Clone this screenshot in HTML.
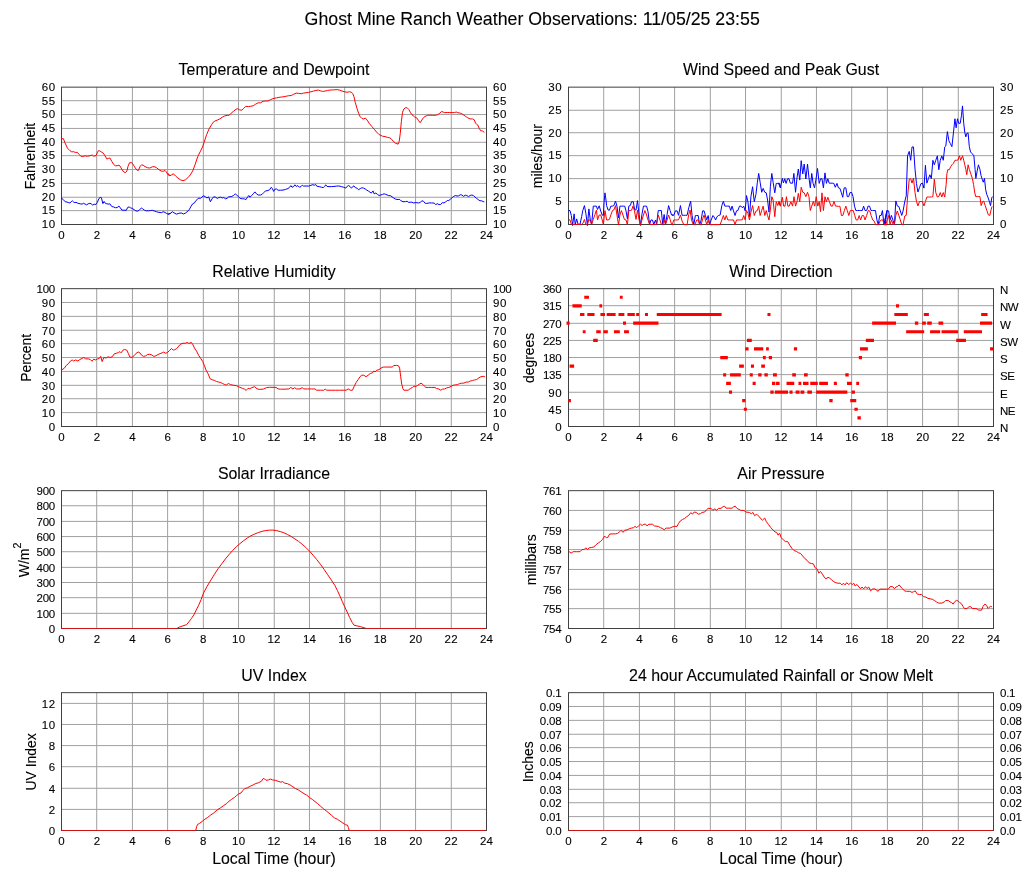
<!DOCTYPE html>
<html><head><meta charset="utf-8"><title>Ghost Mine Ranch Weather Observations</title>
<style>
html,body{margin:0;padding:0;background:#fff}
svg{display:block}
text{font-family:"Liberation Sans",Arial,Helvetica,sans-serif;fill:#000;stroke:#000;stroke-width:.1px}
.t{font-size:11.5px}
.h{font-size:15.9px}
.l{font-size:13.9px}
.g{stroke:#a0a0a0;stroke-width:1;fill:none}
.f{stroke:#404040;stroke-width:1;fill:none}
.r{stroke:#ff0000;stroke-width:1;fill:none;stroke-linejoin:miter}
.b{stroke:#0000ff;stroke-width:1;fill:none;stroke-linejoin:miter}
</style></head><body>
<svg width="1027" height="878" viewBox="0 0 1027 878">
<rect width="1027" height="878" fill="#fff"/>
<text x="532.2" y="24.8" text-anchor="middle" style="font-size:17.75px">Ghost Mine Ranch Weather Observations: 11/05/25 23:55</text>
<g>
<path class="g" d="M96.71 87.15V224.5M132.42 87.15V224.5M167.62 87.15V224.5M203.33 87.15V224.5M238.54 87.15V224.5M274.25 87.15V224.5M309.46 87.15V224.5M344.67 87.15V224.5M380.38 87.15V224.5M415.58 87.15V224.5M451.29 87.15V224.5M61.5 210.63H486.5M61.5 197.26H486.5M61.5 183.4H486.5M61.5 169.53H486.5M61.5 155.66H486.5M61.5 142.3H486.5M61.5 128.43H486.5M61.5 114.56H486.5M61.5 100.69H486.5"/>
<rect class="f" x="61.5" y="87.15" width="425" height="137.35"/>
<polyline class="r" points="61.5,138.92 63.32,138.55 65.13,143.17 67.55,148.26 69.97,150.69 71.79,151.91 73.6,151.66 75.42,152.51 77.23,152.27 79.05,154.33 80.86,156.28 82.68,156.52 85.1,155.79 87.52,156.28 89.94,155.67 92.36,155.06 93.57,156.15 95.99,155.67 97.2,152.88 98.41,150.69 99.62,150.81 101.43,152.03 103.25,153.12 105.06,155.91 106.88,158.95 108.7,158.34 109.91,157.98 111.72,161.37 113.54,164.05 115.35,165.99 117.17,165.62 118.98,165.26 120.19,166.23 122.01,169.63 123.82,172.06 125.64,172.54 126.85,171.09 128.06,166.23 129.51,162.83 131.69,162.59 133.5,165.02 135.32,168.05 137.13,170.24 138.34,170.48 140.16,166.23 141.61,164.77 143.18,165.26 145,166.59 147.42,167.69 149.84,168.05 152.26,166.84 154.08,166.59 156.5,167.69 158.92,169.63 161.34,171.09 163.15,171.33 164.97,170.48 166.18,171.69 167.99,174.73 169.81,175.7 167.75,173.28 169.88,175.75 171.51,174.93 173.47,173.78 175.6,176.08 178.05,178.22 180.5,179.87 182.95,180.69 185.4,179.87 187.86,177.73 190.31,174.93 192.76,170.81 195.21,164.22 197.66,156.81 200.12,151.87 202.57,146.93 204.2,141.99 206.65,134.58 209.11,128.82 211.56,124.7 213.19,122.23 214.83,121.08 217.28,120.09 219.73,118.93 222.18,117.29 224.63,115.97 227.09,115.31 229.21,115.31 231.17,113.17 233.62,111.19 236.08,109.22 237.71,108.72 239.67,109.88 241.8,110.21 243.92,108.23 245.88,106.25 248.34,106.58 250.79,106.25 253.24,105.76 255.69,104.11 258.14,102.8 260.6,102.8 263.05,101.31 265.5,100.98 267.95,100.98 270.4,99.67 272.86,98.68 276.46,97.85 278.93,97.36 281.39,97.03 283.85,96.7 286.32,96.21 288.78,95.71 291.24,95.55 293.71,94.23 296.17,93.08 298.63,93.41 301.1,93.74 303.56,93.08 306.02,92.75 308.49,92.42 310.95,91.76 313.41,91.1 315.88,90.44 318.34,90.11 320.8,90.94 322.44,91.43 324.91,91.1 327.37,90.44 329.83,90.11 332.3,89.95 334.76,89.79 337.22,89.62 339.69,90.11 342.15,91.1 344.61,91.76 347.08,92.26 349.54,91.76 351.18,92.09 352.83,93.74 353.97,96.7 355.29,102.47 356.93,108.23 358.57,113.17 360.22,116.79 361.86,118.44 363.5,118.93 365.47,118.11 367.11,120.09 369.25,123.38 371.71,126.35 374.17,129.15 376.64,132.11 379.1,134.58 382.54,136.23 385,136.56 387.45,137.38 389.91,137.87 391.55,139.19 393.18,141.17 395.64,143.31 398.09,144.13 399.24,141.17 400.22,133.76 401.37,121.41 402.52,112.35 403.82,109.05 405.46,107.74 407.1,107.74 408.74,109.38 410.37,112.35 412.01,114.82 414.47,116.79 416.92,118.11 418.56,120.58 420.2,122.72 421.83,120.09 423.47,117.62 425.11,116.46 427.56,115.31 430.02,115.15 432.47,115.31 434.93,115.31 437.39,114.82 439.84,113.17 441.48,111.52 443.12,112.02 444.75,112.68 447.21,112.51 449.66,112.51 452.12,112.68 454.58,112.51 456.21,112.02 457.85,112.68 460.31,113.17 462.76,114.32 465.22,116.14 467.67,117.78 470.13,118.93 472.58,118.93 474.22,119.76 475.53,123.05 476.68,124.37 477.82,125.03 479.13,128.32 480.77,130.79 482.41,130.96 484.37,132.44"/>
<polyline class="b" points="61.5,198.16 63.32,199.61 65.13,201.68 66.95,202.04 68.76,202.65 69.97,203.01 71.18,201.68 72.39,200.83 73.6,202.04 74.81,202.65 76.02,202.28 77.84,203.26 80.26,203.86 82.07,204.11 83.52,203.26 85.1,204.11 86.67,204.83 88.12,203.86 89.94,203.26 91.15,203.86 92.72,205.08 94.17,204.23 95.99,204.47 97.2,202.65 99.01,198.4 100.22,197.43 101.43,197.79 102.89,203.62 104.1,201.43 105.31,203.26 106.88,203.86 108.7,204.11 109.91,203.86 111.72,206.53 113.54,206.9 115.35,207.75 117.17,207.5 118.98,206.05 120.19,207.75 122.01,210.18 123.82,210.18 126.24,210.3 127.82,207.26 129.27,207.02 130.48,207.75 132.29,208.48 134.11,209.69 135.92,210.9 137.74,211.15 139.55,209.69 141.37,208.11 142.58,208.72 144.39,210.18 146.21,210.78 148.63,210.78 150.45,210.54 152.26,210.3 154.08,210.9 156.5,211.75 158.92,212.36 161.34,212.72 163.15,211.75 164.97,212.36 166.78,213.57 168.23,214.18 170.41,213.33 168.24,214.12 170.69,213.3 172.33,211.65 173.96,212.81 176.41,214.12 178.87,213.3 181.32,212.97 183.44,213.96 185.4,213.14 187.86,211.16 189.49,209.18 191.12,206.22 192.76,203.75 194.39,202.93 196.03,200.46 197.66,199.14 198.81,197.99 200.44,198.48 202.08,196.83 203.71,195.84 205.35,196.83 206.98,197.99 208.62,196.83 210.41,201.77 212.05,198.81 213.68,196.83 215.64,197.16 217.28,198.48 218.91,197.49 220.55,197.16 222.18,197.99 223.82,197.49 225.45,198.81 227.09,198.31 228.72,196.83 231.17,196.67 233.62,195.51 235.26,193.87 236.89,195.19 238.53,196.67 240.16,198.48 242.62,198.81 244.25,198.81 245.88,199.63 247.52,197.16 248.83,195.51 249.97,197.16 251.61,195.51 253.24,193.87 254.88,191.89 256.51,193.87 258.14,195.02 260.6,195.02 262.23,194.2 263.87,192.55 265.5,190.9 267.95,190.57 269.59,189.75 271.22,187.28 272.37,188.6 273.67,191.4 274.82,189.26 276.46,188.93 278.11,190.24 280.57,190.24 283.03,190.08 285.5,189.42 287.96,188.6 289.6,187.28 290.91,185.63 292.06,187.28 293.71,186.46 294.86,184.81 296.17,186.46 297.81,185.63 299.45,187.28 301.1,186.46 302.25,185.14 303.56,186.13 306.02,185.96 308.49,186.13 310.95,185.3 312.92,184.65 314.23,185.3 315.55,184.32 316.7,186.13 319.16,186.62 321.62,187.28 323.27,187.61 324.58,186.46 325.73,184.81 327.04,186.46 329.01,186.62 331.48,186.62 333.94,186.46 336.4,186.13 338.87,185.96 341.33,186.62 343.79,187.28 345.76,188.1 347.41,186.13 348.72,185.3 350.36,187.28 351.51,188.1 352.83,186.46 353.97,185.96 355.29,187.61 356.93,188.1 358.57,189.75 360.22,188.6 361.86,187.77 363.5,188.1 365.14,188.93 366.78,190.08 368.43,191.07 370.07,192.22 371.38,193.04 373.02,190.9 374.17,193.87 375.82,193.04 377.46,194.36 379.1,195.51 380.09,195.19 382.54,194.36 384.18,193.87 385.82,194.36 388.27,195.51 390.73,195.84 393.18,197.66 395.64,199.14 398.09,199.63 399.24,199.14 400.55,200.46 403.01,201.77 405.46,201.61 407.1,201.28 408.74,202.43 411.19,202.1 413.65,202.93 416.1,202.6 418.56,202.93 420.2,202.6 421.83,200.78 423.47,201.28 425.11,203.26 426.74,203.42 429.2,202.93 431.66,202.93 434.11,203.09 435.75,204.57 437.39,203.75 439.02,204.57 440.66,204.57 442.3,202.6 443.93,202.93 445.57,202.1 447.21,200.46 448.85,200.46 450.48,199.14 452.12,197.66 453.76,196.34 455.39,195.51 457.03,196.01 458.67,195.84 460.31,194.69 461.94,195.02 463.58,196.34 465.22,195.19 466.85,195.51 468.49,196.67 470.13,195.51 471.77,195.02 473.4,195.51 475.04,197.16 476.68,198.48 478.31,199.63 479.95,200.78 481.59,200.78 483.23,201.61 484.37,201.77"/>
<text class="h" x="274" y="75.45" text-anchor="middle">Temperature and Dewpoint</text>
<text class="t" x="61.5" y="239" text-anchor="middle">0</text>
<text class="t" x="96.92" y="239" text-anchor="middle">2</text>
<text class="t" x="132.33" y="239" text-anchor="middle">4</text>
<text class="t" x="167.75" y="239" text-anchor="middle">6</text>
<text class="t" x="203.17" y="239" text-anchor="middle">8</text>
<text class="t" x="238.68" y="239" text-anchor="middle" letter-spacing="0.2">10</text>
<text class="t" x="274.1" y="239" text-anchor="middle" letter-spacing="0.2">12</text>
<text class="t" x="309.52" y="239" text-anchor="middle" letter-spacing="0.2">14</text>
<text class="t" x="344.93" y="239" text-anchor="middle" letter-spacing="0.2">16</text>
<text class="t" x="380.35" y="239" text-anchor="middle" letter-spacing="0.2">18</text>
<text class="t" x="415.77" y="239" text-anchor="middle" letter-spacing="0.2">20</text>
<text class="t" x="451.18" y="239" text-anchor="middle" letter-spacing="0.2">22</text>
<text class="t" x="486.6" y="239" text-anchor="middle" letter-spacing="0.2">24</text>
<text class="t" x="55.8" y="228" text-anchor="end" letter-spacing="0.6">10</text>
<text class="t" x="493" y="228" letter-spacing="0.6">10</text>
<text class="t" x="55.8" y="214" text-anchor="end" letter-spacing="0.6">15</text>
<text class="t" x="493" y="214" letter-spacing="0.6">15</text>
<text class="t" x="55.8" y="201" text-anchor="end" letter-spacing="0.6">20</text>
<text class="t" x="493" y="201" letter-spacing="0.6">20</text>
<text class="t" x="55.8" y="187" text-anchor="end" letter-spacing="0.6">25</text>
<text class="t" x="493" y="187" letter-spacing="0.6">25</text>
<text class="t" x="55.8" y="173" text-anchor="end" letter-spacing="0.6">30</text>
<text class="t" x="493" y="173" letter-spacing="0.6">30</text>
<text class="t" x="55.8" y="159" text-anchor="end" letter-spacing="0.6">35</text>
<text class="t" x="493" y="159" letter-spacing="0.6">35</text>
<text class="t" x="55.8" y="146" text-anchor="end" letter-spacing="0.6">40</text>
<text class="t" x="493" y="146" letter-spacing="0.6">40</text>
<text class="t" x="55.8" y="132" text-anchor="end" letter-spacing="0.6">45</text>
<text class="t" x="493" y="132" letter-spacing="0.6">45</text>
<text class="t" x="55.8" y="118" text-anchor="end" letter-spacing="0.6">50</text>
<text class="t" x="493" y="118" letter-spacing="0.6">50</text>
<text class="t" x="55.8" y="105" text-anchor="end" letter-spacing="0.6">55</text>
<text class="t" x="493" y="105" letter-spacing="0.6">55</text>
<text class="t" x="55.8" y="91" text-anchor="end" letter-spacing="0.6">60</text>
<text class="t" x="493" y="91" letter-spacing="0.6">60</text>
<text class="l" transform="translate(35.4 156.12) rotate(-90)" text-anchor="middle">Fahrenheit</text>
</g>
<g>
<path class="g" d="M603.71 87.15V224.5M639.42 87.15V224.5M674.62 87.15V224.5M710.33 87.15V224.5M745.54 87.15V224.5M781.25 87.15V224.5M816.46 87.15V224.5M851.67 87.15V224.5M887.38 87.15V224.5M922.58 87.15V224.5M958.29 87.15V224.5M568.5 201.55H993.5M568.5 178.61H993.5M568.5 155.66H993.5M568.5 132.72H993.5M568.5 110.27H993.5"/>
<rect class="f" x="568.5" y="87.15" width="425" height="137.35"/>
<polyline class="b" points="568.44,210.57 570,210.57 571.33,215.54 572.55,225.5 574.11,213.88 575.22,224.61 576.66,218.86 578.1,224.39 579.99,224.39 581.65,216.65 582.76,210.57 584.43,205.59 585.87,213.33 587.43,225.5 588.87,208.91 590.31,219.97 591.64,224.39 593.31,206.14 594.97,206.14 596.42,206.14 597.53,209.46 599.19,205.81 600.75,211.12 602.19,214.99 603.3,215.54 604.08,202.27 604.96,192.87 605.85,198.95 606.63,205.59 608.07,210.01 609.4,210.23 610.85,206.14 612.51,206.14 613.84,205.59 615.51,201.17 616.95,206.14 618.51,217.75 619.95,206.14 621.61,206.14 623.28,206.14 624.72,206.14 626.05,211.12 627.39,218.86 628.83,206.14 630.27,205.59 631.6,201.72 633.27,201.72 634.71,210.01 636.04,210.01 637.49,200.61 639.04,214.44 640.48,225.5 641.93,214.44 643.48,206.14 644.92,206.14 646.59,206.14 648.03,211.67 649.59,224.39 651.03,219.97 652.47,219.97 653.8,224.39 655.47,219.97 656.58,224.39 658.24,210.57 659.91,210.57 661.35,210.57 662.68,224.39 664.13,214.44 665.46,224.39 667.12,214.44 668.57,205.59 670.12,210.57 671.56,214.99 673.23,214.99 672.33,215.31 673.77,215.31 675.44,210.87 677.1,210.87 678.55,215.31 680.43,205.56 682.1,215.31 683.76,215.31 685.43,215.31 687.09,215.31 688.76,207.77 690.65,201.13 692.09,215.53 693.75,224.61 695.42,215.53 696.75,215.53 698.19,215.53 699.64,224.94 701.19,219.96 702.63,210.87 704.08,210.87 705.41,215.53 706.74,219.96 708.18,215.53 709.63,224.61 711.18,219.96 712.96,215.53 714.29,217.19 715.62,219.96 717.06,216.63 718.51,215.53 720.17,214.97 721.84,205.56 723.39,201.35 724.83,206.11 726.28,206.11 727.83,206.11 729.27,206.11 730.72,210.54 732.05,206.11 733.49,210.87 735.05,215.53 736.49,210.87 737.93,210.54 739.49,206.11 740.93,206.11 742.37,207.77 743.7,206.11 745.15,210.87 746.48,195.59 747.92,201.68 749.48,216.63 750.92,196.7 752.58,186.73 754.25,201.68 755.91,194.48 757.36,182.29 758.69,173.43 760.13,182.29 761.69,192.26 763.13,188.39 764.79,192.26 766.24,192.82 767.57,200.02 769.01,212.2 770.34,186.73 771.79,173.43 773.12,182.29 774.78,192.82 776.23,183.4 777.78,183.4 779.22,183.18 780.67,187.83 778.67,183.18 780.33,187.83 782.33,178.42 783.44,182.85 784.77,178.75 786.11,183.4 787.55,178.75 788.99,178.75 790.33,183.18 792.55,183.18 793.88,173.43 795.54,192.26 796.99,177.86 798.32,169 799.76,180.08 801.21,160.69 802.76,173.99 804.2,164.02 805.87,178.97 807.53,164.02 808.98,177.86 810.31,187.83 811.75,173.43 813.09,183.4 814.53,187.83 816.08,178.75 817.53,168.45 819.19,183.4 820.64,178.75 821.97,178.75 823.41,187.83 824.97,172.88 826.41,183.4 827.85,178.75 829.18,183.18 830.85,183.18 832.29,183.18 833.85,183.4 835.29,187.28 836.96,183.4 838.4,187.83 839.95,188.39 841.4,192.82 842.73,197.25 844.17,187.83 845.84,187.83 847.28,196.7 848.61,196.7 850.06,192.49 851.61,192.49 853.05,196.7 854.5,206.11 855.83,210.54 857.5,210.54 859.16,210.54 860.83,210.54 862.27,210.54 863.6,206.11 865.05,210.54 866.71,210.54 868.04,206.11 869.49,206.11 871.04,210.54 872.48,210.54 873.93,210.54 875.48,210.54 876.92,219.96 878.26,224.61 879.7,215.53 881.14,215.53 882.48,210.54 883.92,224.61 885.25,224.61 886.92,210.54 884.13,224.54 885.8,215.41 887.25,210.4 888.59,210.96 890.04,219.87 891.38,215.41 893.05,220.42 894.39,224.88 895.84,200.94 897.29,205.95 898.85,206.51 900.31,210.96 901.76,215.41 903.09,210.96 904.77,201.5 906.22,195.93 907.56,155.85 909.23,151.39 910.68,160.3 912.02,146.94 913.47,146.94 915.03,169.21 916.48,183.68 917.94,192.03 919.5,187.58 920.95,183.68 922.4,183.13 923.96,188.14 925.41,165.31 926.86,183.13 928.42,178.67 929.87,174.78 931.33,178.67 932.89,160.3 934.34,164.75 935.79,160.3 937.35,155.85 938.8,169.76 940.25,160.3 941.81,155.85 943.27,160.3 944.72,146.94 945.84,145.94 947.36,131.59 948.87,140.65 950.39,143.68 951.9,146.7 953.42,133.1 954.93,118.75 956.14,127.81 957.51,118.75 958.72,123.28 960.23,123.28 961.45,115.72 962.51,105.9 963.72,123.28 964.78,132.34 965.84,136.88 967.05,133.1 968.11,133.1 969.32,146.7 970.54,151.99 972.05,153.5 973.87,155.76 975.08,169.36 975.84,178.43 977.2,170.87 978.41,164.83 979.93,169.36 980.99,175.41 982.2,179.19 983.26,182.21 984.47,178.43 985.68,189.76 986.74,194.3 988.26,198.07 989.47,201.85 990.53,205.63 991.74,198.07 992.35,196.56"/>
<polyline class="r" points="568.44,219.41 570,219.97 571.33,224.39 572.55,224.39 574.11,224.39 576.1,224.39 579.99,224.39 581.65,224.39 582.99,223.28 584.43,219.41 585.87,224.39 587.43,224.39 588.87,219.41 590.31,221.07 591.64,224.39 593.31,219.41 594.97,214.44 596.42,210.01 597.53,219.97 599.19,214.99 600.75,214.99 602.19,219.97 603.3,224.39 604.96,210.57 606.63,219.97 608.07,219.97 609.4,219.41 610.85,214.99 612.51,210.57 613.84,210.01 615.51,205.59 616.95,214.99 618.51,224.94 619.95,214.99 621.39,210.57 622.95,214.99 624.39,219.41 626.05,219.97 627.39,224.94 628.83,210.57 630.27,210.57 631.6,210.23 632.94,206.14 634.38,210.57 636.04,219.41 637.49,210.01 639.04,219.41 640.48,224.94 641.93,219.97 643.48,214.99 644.92,210.57 646.59,214.99 648.03,219.97 649.59,224.39 651.03,224.39 653.8,224.39 656.58,224.39 658.24,214.99 659.91,219.97 661.35,224.39 662.68,224.39 664.13,219.97 665.46,224.39 667.12,219.97 668.57,214.99 670.12,219.41 671.56,224.39 673.23,224.39 672.33,224.61 673.77,219.96 675.44,219.96 677.1,219.96 678.55,219.74 680.43,214.97 682.1,221.07 683.76,224.61 685.43,224.61 687.09,224.61 688.76,214.42 690.09,209.99 691.53,219.96 693.2,224.61 694.86,224.61 696.75,219.96 698.19,219.96 699.64,224.61 701.19,224.61 702.63,218.85 704.08,214.97 705.41,219.96 706.74,224.61 708.18,219.96 709.63,224.61 711.18,224.61 714.29,224.61 717.06,224.61 720.17,224.61 721.84,219.96 723.39,215.53 724.83,219.96 726.28,215.53 727.83,219.96 729.27,219.96 730.72,219.96 733.49,219.96 735.05,224.61 736.49,219.96 737.93,219.96 739.49,219.96 740.93,219.96 742.37,219.74 743.7,215.53 745.15,219.96 746.48,210.54 747.92,213.31 749.48,219.96 750.92,212.2 752.58,205.56 754.25,215.53 755.91,211.1 757.36,210.54 758.69,206.11 760.13,215.53 761.69,210.54 763.13,206.11 764.79,215.53 766.24,210.54 767.57,215.53 769.01,219.96 770.34,209.99 771.79,196.7 773.12,200.02 774.78,216.63 776.23,201.68 777.78,205.56 779.22,201.35 780.67,206.11 778.67,201.68 780.33,206.11 782.33,197.25 783.66,206.11 785,206.11 786.44,196.7 787.77,206.11 789.22,206.11 790.88,201.68 792.55,206.11 793.99,196.7 795.54,206.11 796.99,201.68 798.32,193.37 799.76,201.68 801.21,187.28 802.76,192.26 804.2,192.82 805.87,196.7 807.53,192.26 808.98,196.7 810.31,210.54 811.75,206.11 813.31,201.35 814.75,206.11 816.19,196.7 817.75,206.11 819.19,201.68 820.52,211.65 821.97,192.82 823.41,210.54 824.97,196.7 826.41,201.68 827.85,197.25 829.41,201.68 831.07,206.11 832.52,206.11 833.96,201.35 835.51,206.11 836.96,206.11 838.4,206.33 839.95,206.33 841.4,215.53 842.84,215.53 844.39,210.54 845.84,206.11 847.28,210.54 848.84,215.53 850.28,210.54 851.94,210.54 853.28,210.54 854.72,215.53 856.16,219.96 857.72,219.96 859.16,215.53 860.6,219.96 862.16,215.53 863.6,215.53 865.05,219.96 866.6,215.53 868.26,210.54 869.71,210.87 871.15,215.53 872.71,219.96 874.15,221.07 875.59,224.61 876.92,224.61 878.59,224.61 880.03,221.07 881.37,219.96 882.81,219.96 884.36,224.61 885.81,224.61 886.92,224.61 884.13,224.54 885.8,224.54 887.25,219.87 888.59,215.41 890.04,224.54 891.38,219.87 893.05,224.54 894.39,224.54 895.84,215.41 897.29,210.96 898.85,215.41 900.31,219.87 901.76,224.54 903.09,224.54 904.77,215.97 906.22,215.41 907.56,197.04 909.23,179.23 910.68,178.67 912.02,183.13 913.47,178.12 915.03,192.59 916.48,201.5 917.94,205.95 919.5,201.5 920.95,201.5 922.4,201.5 923.96,205.95 925.41,201.5 926.86,197.04 928.42,197.04 929.87,197.04 931.33,197.04 932.89,196.49 934.34,179.23 935.79,192.59 937.35,197.04 938.8,196.49 940.25,192.59 941.81,197.04 943.27,192.59 944.72,197.04 946.15,184.47 946.9,173.9 947.81,169.67 949.33,169.67 950.84,166.34 951.9,164.83 953.42,163.32 954.93,160.3 956.45,160.3 957.96,160 959.48,155.76 960.69,160.3 962.51,155.76 963.72,160.3 964.78,164.83 965.84,169.36 966.75,174.65 968.11,164.83 969.32,169.36 970.84,173.9 972.35,178.43 973.56,184.47 974.63,192.03 975.69,196.56 977.2,196.56 978.72,196.56 979.93,196.56 981.14,205.63 982.5,201.85 983.71,201.09 985.23,205.63 986.74,210.16 988.26,214.69 989.77,215.45 990.99,210.16 992.05,206.38"/>
<text class="h" x="781" y="75.45" text-anchor="middle">Wind Speed and Peak Gust</text>
<text class="t" x="568.5" y="239" text-anchor="middle">0</text>
<text class="t" x="603.92" y="239" text-anchor="middle">2</text>
<text class="t" x="639.33" y="239" text-anchor="middle">4</text>
<text class="t" x="674.75" y="239" text-anchor="middle">6</text>
<text class="t" x="710.17" y="239" text-anchor="middle">8</text>
<text class="t" x="745.68" y="239" text-anchor="middle" letter-spacing="0.2">10</text>
<text class="t" x="781.1" y="239" text-anchor="middle" letter-spacing="0.2">12</text>
<text class="t" x="816.52" y="239" text-anchor="middle" letter-spacing="0.2">14</text>
<text class="t" x="851.93" y="239" text-anchor="middle" letter-spacing="0.2">16</text>
<text class="t" x="887.35" y="239" text-anchor="middle" letter-spacing="0.2">18</text>
<text class="t" x="922.77" y="239" text-anchor="middle" letter-spacing="0.2">20</text>
<text class="t" x="958.18" y="239" text-anchor="middle" letter-spacing="0.2">22</text>
<text class="t" x="993.6" y="239" text-anchor="middle" letter-spacing="0.2">24</text>
<text class="t" x="561.6" y="228" text-anchor="end">0</text>
<text class="t" x="1000" y="228">0</text>
<text class="t" x="561.6" y="205" text-anchor="end">5</text>
<text class="t" x="1000" y="205">5</text>
<text class="t" x="562.2" y="182" text-anchor="end" letter-spacing="0.6">10</text>
<text class="t" x="1000" y="182" letter-spacing="0.6">10</text>
<text class="t" x="562.2" y="159" text-anchor="end" letter-spacing="0.6">15</text>
<text class="t" x="1000" y="159" letter-spacing="0.6">15</text>
<text class="t" x="562.2" y="137" text-anchor="end" letter-spacing="0.6">20</text>
<text class="t" x="1000" y="137" letter-spacing="0.6">20</text>
<text class="t" x="562.2" y="114" text-anchor="end" letter-spacing="0.6">25</text>
<text class="t" x="1000" y="114" letter-spacing="0.6">25</text>
<text class="t" x="562.2" y="91" text-anchor="end" letter-spacing="0.6">30</text>
<text class="t" x="1000" y="91" letter-spacing="0.6">30</text>
<text class="l" transform="translate(542.3 156.12) rotate(-90)" text-anchor="middle">miles/hour</text>
</g>
<g>
<path class="g" d="M96.71 288.66V426.5M132.42 288.66V426.5M167.62 288.66V426.5M203.33 288.66V426.5M238.54 288.66V426.5M274.25 288.66V426.5M309.46 288.66V426.5M344.67 288.66V426.5M380.38 288.66V426.5M415.58 288.66V426.5M451.29 288.66V426.5M61.5 412.61H486.5M61.5 398.72H486.5M61.5 385.32H486.5M61.5 371.43H486.5M61.5 357.54H486.5M61.5 343.65H486.5M61.5 330.26H486.5M61.5 316.36H486.5M61.5 302.47H486.5"/>
<rect class="f" x="61.5" y="288.66" width="425" height="137.84"/>
<polyline class="r" points="61.54,369.96 64.25,368.29 66.33,365.36 68.42,363.69 70.5,360.98 72.17,359.94 73.63,360.98 75.71,359.94 77.79,360.98 79.88,359.52 81.96,358.48 83.63,357.43 85.71,358.89 88.21,358.89 90.3,359.52 91.96,361.19 93.84,359.1 95.51,359.94 97.59,358.89 99.26,358.48 100.72,356.39 102.17,361.61 103.84,357.43 105.93,358.06 108.01,356.81 110.09,357.43 112.18,356.81 114.26,353.89 116.34,353.26 118.43,352.63 119.89,351.59 121.14,352.84 123.01,350.13 124.68,349.5 126.76,350.13 128.22,353.26 129.89,357.02 131.97,357.43 134.06,355.76 136.14,353.26 138.22,352.01 139.89,352.84 141.35,354.93 143.43,356.39 145.52,355.97 147.6,354.51 149.68,354.3 151.77,354.93 153.85,356.39 155.94,355.76 158.02,354.51 160.1,353.68 162.19,352.84 163.85,352.01 165.31,353.26 167.4,352.63 169.48,350.55 171.56,348.46 173.23,350.13 174.69,349.71 176.77,348.46 178.86,345.96 180.94,343.87 183.02,343.24 185.52,343.24 187.19,342.41 188.86,343.45 191.36,342.41 193.03,344.91 194.48,348.04 196.57,351.17 198.65,355.35 200.74,358.48 202.82,361.61 204.49,365.78 205.94,369.96 208.03,373.71 210.11,378.72 212.2,379.76 214.28,380.39 216.36,381.43 218.45,382.06 220.53,382.48 222.61,383.52 224.7,384.56 226.37,384.98 228.45,383.52 230.53,384.56 233.03,385.19 236.16,385.61 239.28,387.07 242.41,388.32 244.49,389.15 246.16,390.41 248.04,388.32 249.7,388.74 251.79,387.69 254.5,386.65 257,388.74 259.08,389.36 263.25,389.15 266.37,387.69 269.5,387.28 275.99,387.44 278.13,388.95 280.71,389.16 284.99,389.16 288.85,388.95 290.77,387.44 292.92,388.95 294.63,387.66 296.34,388.95 299.99,388.95 302.13,387.66 303.84,388.95 307.48,388.95 311.77,388.95 314.98,388.95 316.7,390.23 320.34,390.23 323.55,390.23 325.27,389.16 326.77,390.23 331.05,390.23 335.34,390.23 339.62,390.23 343.9,390.23 346.05,390.23 348.19,388.95 350.33,390.23 352.47,390.23 354.19,386.37 356.12,382.51 358.26,379.51 359.97,376.72 361.69,375.21 363.83,375.21 365.97,376.72 368.11,375.21 370.26,373.5 372.4,372.86 373.9,370.92 374.97,372 376.68,370.28 378.83,369.64 380.97,368.14 383.11,367.06 385.68,367.06 388.89,367.06 392.11,367.06 393.82,365.56 396.39,365.35 398.53,365.78 399.61,368.14 400.68,376.72 401.75,384.23 402.82,388.52 403.89,390.23 406.03,390.23 408.18,390.23 410.32,388.52 412.46,387.44 413.96,386.37 416.1,386.37 417.82,385.3 419.32,384.23 421.03,383.15 422.53,384.23 424.24,385.94 425.96,387.44 428.53,387.44 431.74,387.44 434.95,387.44 436.67,388.52 438.81,388.95 440.74,390.23 442.45,389.16 444.6,388.95 446.74,387.87 448.88,387.44 451.02,386.37 453.16,385.3 455.31,384.87 457.45,384.65 459.59,383.58 461.73,383.15 463.88,383.15 466.02,382.08 468.16,382.08 470.3,381.01 472.45,380.58 474.59,379.93 476.73,379.51 478.87,377.79 481.02,376.72 483.16,376.29 484.87,376.72"/>
<text class="h" x="274" y="276.96" text-anchor="middle">Relative Humidity</text>
<text class="t" x="61.5" y="441" text-anchor="middle">0</text>
<text class="t" x="96.92" y="441" text-anchor="middle">2</text>
<text class="t" x="132.33" y="441" text-anchor="middle">4</text>
<text class="t" x="167.75" y="441" text-anchor="middle">6</text>
<text class="t" x="203.17" y="441" text-anchor="middle">8</text>
<text class="t" x="238.68" y="441" text-anchor="middle" letter-spacing="0.2">10</text>
<text class="t" x="274.1" y="441" text-anchor="middle" letter-spacing="0.2">12</text>
<text class="t" x="309.52" y="441" text-anchor="middle" letter-spacing="0.2">14</text>
<text class="t" x="344.93" y="441" text-anchor="middle" letter-spacing="0.2">16</text>
<text class="t" x="380.35" y="441" text-anchor="middle" letter-spacing="0.2">18</text>
<text class="t" x="415.77" y="441" text-anchor="middle" letter-spacing="0.2">20</text>
<text class="t" x="451.18" y="441" text-anchor="middle" letter-spacing="0.2">22</text>
<text class="t" x="486.6" y="441" text-anchor="middle" letter-spacing="0.2">24</text>
<text class="t" x="55.2" y="431" text-anchor="end">0</text>
<text class="t" x="493" y="431">0</text>
<text class="t" x="55.8" y="417" text-anchor="end" letter-spacing="0.6">10</text>
<text class="t" x="493" y="417" letter-spacing="0.6">10</text>
<text class="t" x="55.8" y="403" text-anchor="end" letter-spacing="0.6">20</text>
<text class="t" x="493" y="403" letter-spacing="0.6">20</text>
<text class="t" x="55.8" y="390" text-anchor="end" letter-spacing="0.6">30</text>
<text class="t" x="493" y="390" letter-spacing="0.6">30</text>
<text class="t" x="55.8" y="376" text-anchor="end" letter-spacing="0.6">40</text>
<text class="t" x="493" y="376" letter-spacing="0.6">40</text>
<text class="t" x="55.8" y="362" text-anchor="end" letter-spacing="0.6">50</text>
<text class="t" x="493" y="362" letter-spacing="0.6">50</text>
<text class="t" x="55.8" y="348" text-anchor="end" letter-spacing="0.6">60</text>
<text class="t" x="493" y="348" letter-spacing="0.6">60</text>
<text class="t" x="55.8" y="335" text-anchor="end" letter-spacing="0.6">70</text>
<text class="t" x="493" y="335" letter-spacing="0.6">70</text>
<text class="t" x="55.8" y="321" text-anchor="end" letter-spacing="0.6">80</text>
<text class="t" x="493" y="321" letter-spacing="0.6">80</text>
<text class="t" x="55.8" y="307" text-anchor="end" letter-spacing="0.6">90</text>
<text class="t" x="493" y="307" letter-spacing="0.6">90</text>
<text class="t" x="54.95" y="293" text-anchor="end" letter-spacing="-0.25">100</text>
<text class="t" x="493" y="293" letter-spacing="-0.25">100</text>
<text class="l" transform="translate(30.6 357.88) rotate(-90)" text-anchor="middle">Percent</text>
</g>
<g>
<path class="g" d="M603.71 288.66V426.5M639.42 288.66V426.5M674.62 288.66V426.5M710.33 288.66V426.5M745.54 288.66V426.5M781.25 288.66V426.5M816.46 288.66V426.5M851.67 288.66V426.5M887.38 288.66V426.5M922.58 288.66V426.5M958.29 288.66V426.5M568.5 409.38H993.5M568.5 392.27H993.5M568.5 374.65H993.5M568.5 357.54H993.5M568.5 340.43H993.5M568.5 323.31H993.5M568.5 305.69H993.5"/>
<rect class="f" x="568.5" y="288.66" width="425" height="137.84"/>
<path d="M584.25 297.27H588.97M619.82 297.27H622.69M572.45 305.89H581.72M599.42 305.89H602.12M580.04 314.5H584.42M587.29 314.5H594.54M600.44 314.5H604.99M606.67 314.5H615.61M618.47 314.5H624.37M627.41 314.5H634.83M636.17 314.5H639.21M644.94 314.5H647.97M656.74 314.5H682.03M566.55 323.12H569.59M623.02 323.12H626.06M633.14 323.12H658.43M582.73 331.74H585.6M596.22 331.74H600.77M603.3 331.74H607.85M613.92 331.74H619.82M624.04 331.74H628.93M593.19 340.35H597.74M569.59 366.19H574.14M568.24 400.65H570.93M668 314.5H721.61M767.46 314.5H770.49M746.89 340.35H751.78M745.21 348.96H748.58M753.97 348.96H763.25M766.11 348.96H768.81M720.26 357.58H727.84M762.91 357.58H765.77M768.81 357.58H772.01M739.14 366.19H743.86M750.94 366.19H753.97M761.22 366.19H764.93M723.12 374.81H726.16M730.04 374.81H740.83M749.76 374.81H752.79M758.19 374.81H761.56M764.43 374.81H767.8M773.02 374.81H776.73M726.16 383.43H730.88M752.63 383.43H755.66M772.01 383.43H774.71M776.4 383.43H779.6M786.51 383.43H788.03M729.02 392.04H732.06M770.33 392.04H773.7M775.38 392.04H788.03M742.17 400.65H745.55M743.86 409.27H746.89M774 374.81H776.87M792.21 374.81H795.92M804.01 374.81H807.72M845.31 374.81H848.68M774 383.43H775.35M776.02 383.43H779.39M786.64 383.43H794.23M798.44 383.43H801.31M803 383.43H808.56M810.24 383.43H817.83M819.18 383.43H827.94M833.84 383.43H836.88M846.99 383.43H851.88M856.27 383.43H859.13M774.84 392.04H787.82M789.51 392.04H792.54M795.58 392.04H799.62M800.47 392.04H804.34M807.38 392.04H811.93M816.14 392.04H847.33M851.55 392.04H854.92M829.29 400.65H832.66M850.2 400.65H856.27M854.41 409.27H857.78M857.45 417.88H860.82M858.79 357.58H862M793.89 348.96H797.1M859.97 348.96H867.9M865.87 340.35H873.97M872.11 323.12H894.03M896.01 305.89H899.05M894.33 314.5H907.82M923.83 314.5H928.89M981.15 314.5H987.55M880 323.12H896.01M914.9 323.12H918.27M922.14 323.12H925.85M927.2 323.12H931.75M938.5 323.12H943.22M979.97 323.12H992.1M906.13 331.74H924.17M930.07 331.74H940.18M941.53 331.74H958.05M963.78 331.74H981.99M956.2 340.35H965.97M990.08 348.96H993.45" stroke="#ff0000" stroke-width="3.2" fill="none"/>
<text class="h" x="781" y="276.96" text-anchor="middle">Wind Direction</text>
<text class="t" x="568.5" y="441" text-anchor="middle">0</text>
<text class="t" x="603.92" y="441" text-anchor="middle">2</text>
<text class="t" x="639.33" y="441" text-anchor="middle">4</text>
<text class="t" x="674.75" y="441" text-anchor="middle">6</text>
<text class="t" x="710.17" y="441" text-anchor="middle">8</text>
<text class="t" x="745.68" y="441" text-anchor="middle" letter-spacing="0.2">10</text>
<text class="t" x="781.1" y="441" text-anchor="middle" letter-spacing="0.2">12</text>
<text class="t" x="816.52" y="441" text-anchor="middle" letter-spacing="0.2">14</text>
<text class="t" x="851.93" y="441" text-anchor="middle" letter-spacing="0.2">16</text>
<text class="t" x="887.35" y="441" text-anchor="middle" letter-spacing="0.2">18</text>
<text class="t" x="922.77" y="441" text-anchor="middle" letter-spacing="0.2">20</text>
<text class="t" x="958.18" y="441" text-anchor="middle" letter-spacing="0.2">22</text>
<text class="t" x="993.6" y="441" text-anchor="middle" letter-spacing="0.2">24</text>
<text class="t" x="561.6" y="431" text-anchor="end">0</text>
<text class="t" x="1000" y="431.6">N</text>
<text class="t" x="562.2" y="414" text-anchor="end" letter-spacing="0.6">45</text>
<text class="t" x="1000" y="414.6" letter-spacing="-0.5">NE</text>
<text class="t" x="562.2" y="397" text-anchor="end" letter-spacing="0.6">90</text>
<text class="t" x="1000" y="397.6">E</text>
<text class="t" x="561.35" y="379" text-anchor="end" letter-spacing="-0.25">135</text>
<text class="t" x="1000" y="379.6" letter-spacing="-0.5">SE</text>
<text class="t" x="561.35" y="362" text-anchor="end" letter-spacing="-0.25">180</text>
<text class="t" x="1000" y="362.6">S</text>
<text class="t" x="561.35" y="345" text-anchor="end" letter-spacing="-0.25">225</text>
<text class="t" x="1000" y="345.6" letter-spacing="-0.5">SW</text>
<text class="t" x="561.35" y="328" text-anchor="end" letter-spacing="-0.25">270</text>
<text class="t" x="1000" y="328.6">W</text>
<text class="t" x="561.35" y="310" text-anchor="end" letter-spacing="-0.25">315</text>
<text class="t" x="1000" y="310.6" letter-spacing="-0.5">NW</text>
<text class="t" x="561.35" y="293" text-anchor="end" letter-spacing="-0.25">360</text>
<text class="t" x="1000" y="293.6">N</text>
<text class="l" transform="translate(533.8 357.88) rotate(-90)" text-anchor="middle">degrees</text>
</g>
<g>
<path class="g" d="M96.71 490.66V628.5M132.42 490.66V628.5M167.62 490.66V628.5M203.33 490.66V628.5M238.54 490.66V628.5M274.25 490.66V628.5M309.46 490.66V628.5M344.67 490.66V628.5M380.38 490.66V628.5M415.58 490.66V628.5M451.29 490.66V628.5M61.5 613.34H486.5M61.5 597.68H486.5M61.5 582.53H486.5M61.5 567.37H486.5M61.5 551.71H486.5M61.5 536.55H486.5M61.5 521.4H486.5M61.5 505.74H486.5"/>
<rect class="f" x="61.5" y="490.66" width="425" height="137.84"/>
<polyline class="r" style="stroke:#cc1414" points="61.4,628.5 176.78,628.5"/>
<polyline class="r" points="176.78,628.5 179.21,627.11 182.87,625.89 186.52,624.67 188.95,621.75 191.39,618.58 193.82,614.92 196.25,610.05 198.69,605.18 201.12,599.57 203.56,592.99 207.21,586.17 210.86,580.07 214.51,574.22 218.16,568.62 221.81,563.74 225.46,558.87 229.11,554.48 232.77,550.34 236.42,546.68 240.07,543.51 243.72,540.59 247.37,537.91 251.02,535.71 254.67,534.01 258.32,532.55 261.98,531.33 265.63,530.6 269.28,530.11 272.93,530.11 276.58,530.6 280.23,531.57 283.88,532.79 287.53,534.5 291.18,536.45 294.84,538.88 298.49,541.32 302.14,544.24 305.79,547.41 309.44,551.07 313.09,555.21 316.74,559.6 320.39,564.23 324.05,569.35 327.7,574.71 331.35,580.07 335,585.68 337.43,590.55 339.87,595.91 342.3,601.52 344.74,606.88 347.17,612 349.6,617.36 352.04,622.24 353.99,625.16 356.91,625.89 360.56,626.62 364.21,627.84 366.64,628.5"/>
<polyline class="r" style="stroke:#cc1414" points="366.64,628.5 485.92,628.5"/>
<text class="h" x="274" y="478.96" text-anchor="middle">Solar Irradiance</text>
<text class="t" x="61.5" y="643" text-anchor="middle">0</text>
<text class="t" x="96.92" y="643" text-anchor="middle">2</text>
<text class="t" x="132.33" y="643" text-anchor="middle">4</text>
<text class="t" x="167.75" y="643" text-anchor="middle">6</text>
<text class="t" x="203.17" y="643" text-anchor="middle">8</text>
<text class="t" x="238.68" y="643" text-anchor="middle" letter-spacing="0.2">10</text>
<text class="t" x="274.1" y="643" text-anchor="middle" letter-spacing="0.2">12</text>
<text class="t" x="309.52" y="643" text-anchor="middle" letter-spacing="0.2">14</text>
<text class="t" x="344.93" y="643" text-anchor="middle" letter-spacing="0.2">16</text>
<text class="t" x="380.35" y="643" text-anchor="middle" letter-spacing="0.2">18</text>
<text class="t" x="415.77" y="643" text-anchor="middle" letter-spacing="0.2">20</text>
<text class="t" x="451.18" y="643" text-anchor="middle" letter-spacing="0.2">22</text>
<text class="t" x="486.6" y="643" text-anchor="middle" letter-spacing="0.2">24</text>
<text class="t" x="55.2" y="633" text-anchor="end">0</text>
<text class="t" x="54.95" y="618" text-anchor="end" letter-spacing="-0.25">100</text>
<text class="t" x="54.95" y="602" text-anchor="end" letter-spacing="-0.25">200</text>
<text class="t" x="54.95" y="587" text-anchor="end" letter-spacing="-0.25">300</text>
<text class="t" x="54.95" y="572" text-anchor="end" letter-spacing="-0.25">400</text>
<text class="t" x="54.95" y="556" text-anchor="end" letter-spacing="-0.25">500</text>
<text class="t" x="54.95" y="541" text-anchor="end" letter-spacing="-0.25">600</text>
<text class="t" x="54.95" y="526" text-anchor="end" letter-spacing="-0.25">700</text>
<text class="t" x="54.95" y="510" text-anchor="end" letter-spacing="-0.25">800</text>
<text class="t" x="54.95" y="495" text-anchor="end" letter-spacing="-0.25">900</text>
<text class="l" transform="translate(28.7 559.88) rotate(-90)" text-anchor="middle">W/m<tspan dy="-8" style="font-size:10.8px">2</tspan></text>
</g>
<g>
<path class="g" d="M603.71 490.66V628.5M639.42 490.66V628.5M674.62 490.66V628.5M710.33 490.66V628.5M745.54 490.66V628.5M781.25 490.66V628.5M816.46 490.66V628.5M851.67 490.66V628.5M887.38 490.66V628.5M922.58 490.66V628.5M958.29 490.66V628.5M568.5 608.65H993.5M568.5 589.31H993.5M568.5 569.46H993.5M568.5 549.62H993.5M568.5 530.27H993.5M568.5 510.43H993.5"/>
<rect class="f" x="568.5" y="490.66" width="425" height="137.84"/>
<polyline class="r" points="568.44,551.04 571.01,553.19 573.15,551.69 576.79,551.69 580,551.69 582.15,549.54 584.29,549.54 585.79,547.83 587.5,549.54 589.21,547.83 591.79,547.4 593.93,546.97 596.07,544.61 598.21,543.11 600.35,541.61 602.5,539.47 604.64,536.03 606.35,537.75 607.85,537.32 609.56,534.11 612.14,533.89 615.35,533.89 617.49,533.46 619.63,531.75 621.13,530.25 622.85,532.39 624.99,530.25 627.13,529.82 629.27,528.75 631.41,528.1 633.56,527.67 635.06,526.39 636.77,527.67 638.48,525.96 640.41,524.24 642.13,525.53 643.84,524.24 645.77,524.24 647.05,525.96 648.98,524.24 652.41,524.24 654.55,525.96 658.19,526.39 660.33,527.67 662.48,528.53 664.19,529.82 666.12,528.1 669.97,528.1 672.12,527.03 674.26,526.39 677.04,526.39 678.54,523.39 680.26,521.03 682.4,519.53 684.54,518.46 686.68,516.74 688.82,515.24 690.75,512.67 692.47,514.17 694.18,512.02 696.32,512.45 698.25,514.17 700.39,513.74 702.11,512.45 704.68,512.02 706.39,509.88 708.1,508.38 711.1,508.38 712.82,510.31 714.96,508.81 716.67,510.31 718.39,508.38 720.96,508.38 723.1,506.66 724.6,506.24 726.1,508.16 728.88,508.16 732.1,508.16 733.81,506.66 735.31,506.24 737.02,508.38 738.95,509.45 740.66,510.31 743.88,510.52 746.02,512.02 749.23,512.45 751.37,513.74 752.87,512.45 754.59,515.67 756.73,514.17 758.87,516.31 761.01,518.88 762.51,520.17 764.66,518.03 766.37,521.67 768.51,524.46 770.65,527.46 772.8,529.82 774.94,531.96 776.65,532.39 778.15,535.18 779.22,533.46 779.78,533.5 781.28,537.78 783.42,539.93 785.56,541.64 787.71,541.64 789.85,545.28 791.99,548.49 794.13,550.63 796.27,551.28 798.42,552.78 800.56,553.42 802.7,555.99 804.84,558.56 806.99,560.27 809.13,562.84 811.27,563.48 813.41,563.91 815.13,567.77 817.27,569.27 818.77,573.12 820.48,571.41 822.41,574.19 824.13,576.97 825.84,578.9 827.98,577.4 829.48,577.83 831.62,579.97 833.77,581.69 835.91,582.76 838.05,583.19 840.19,583.19 841.91,584.9 843.41,583.19 845.12,584.9 846.62,582.76 848.76,584.47 850.48,583.19 852.4,584.47 853.69,583.19 855.19,585.97 856.9,584.47 859.05,587.04 860.55,588.75 862.05,587.04 863.76,588.75 865.47,586.61 866.97,588.54 868.69,587.04 870.61,590.89 872.33,589.18 874.47,588.75 876.61,590.25 878.11,591.32 879.83,589.18 883.04,589.18 886.25,589.18 888.4,589.18 890.11,586.61 892.68,586.61 894.39,588.75 895.89,587.04 897.61,586.4 899.11,584.9 900.82,587.04 902.32,588.54 904.46,590.89 906.61,591.32 909.82,591.32 911.96,592.39 913.46,591.75 915.18,590.89 917.32,594.11 919.46,594.54 921.6,594.54 923.74,596.68 925.89,597.11 928.03,598.39 930.17,598.82 932.31,599.25 934.46,600.53 936.6,602.03 938.74,603.1 941.95,603.1 944.1,602.03 945.81,600.53 948.38,600.53 950.1,602.03 951.6,602.46 953.1,604.17 954.81,601.6 956.52,600.32 958.02,600.96 959.52,602.46 961.24,603.53 962.95,606.31 964.45,608.46 967.23,608.46 968.73,606.74 970.88,606.74 972.38,608.46 975.16,608.46 977.3,608.88 978.37,610.17 981.59,610.17 983.09,606.31 984.8,604.17 986.52,605.24 988.02,608.46 989.09,607.38 990.59,606.31 991.87,606.74"/>
<text class="h" x="781" y="478.96" text-anchor="middle">Air Pressure</text>
<text class="t" x="568.5" y="643" text-anchor="middle">0</text>
<text class="t" x="603.92" y="643" text-anchor="middle">2</text>
<text class="t" x="639.33" y="643" text-anchor="middle">4</text>
<text class="t" x="674.75" y="643" text-anchor="middle">6</text>
<text class="t" x="710.17" y="643" text-anchor="middle">8</text>
<text class="t" x="745.68" y="643" text-anchor="middle" letter-spacing="0.2">10</text>
<text class="t" x="781.1" y="643" text-anchor="middle" letter-spacing="0.2">12</text>
<text class="t" x="816.52" y="643" text-anchor="middle" letter-spacing="0.2">14</text>
<text class="t" x="851.93" y="643" text-anchor="middle" letter-spacing="0.2">16</text>
<text class="t" x="887.35" y="643" text-anchor="middle" letter-spacing="0.2">18</text>
<text class="t" x="922.77" y="643" text-anchor="middle" letter-spacing="0.2">20</text>
<text class="t" x="958.18" y="643" text-anchor="middle" letter-spacing="0.2">22</text>
<text class="t" x="993.6" y="643" text-anchor="middle" letter-spacing="0.2">24</text>
<text class="t" x="561.35" y="633" text-anchor="end" letter-spacing="-0.25">754</text>
<text class="t" x="561.35" y="613" text-anchor="end" letter-spacing="-0.25">755</text>
<text class="t" x="561.35" y="594" text-anchor="end" letter-spacing="-0.25">756</text>
<text class="t" x="561.35" y="574" text-anchor="end" letter-spacing="-0.25">757</text>
<text class="t" x="561.35" y="554" text-anchor="end" letter-spacing="-0.25">758</text>
<text class="t" x="561.35" y="535" text-anchor="end" letter-spacing="-0.25">759</text>
<text class="t" x="561.35" y="515" text-anchor="end" letter-spacing="-0.25">760</text>
<text class="t" x="561.35" y="495" text-anchor="end" letter-spacing="-0.25">761</text>
<text class="l" transform="translate(536.2 559.88) rotate(-90)" text-anchor="middle">millibars</text>
</g>
<g>
<path class="g" d="M96.71 692.66V830.5M132.42 692.66V830.5M167.62 692.66V830.5M203.33 692.66V830.5M238.54 692.66V830.5M274.25 692.66V830.5M309.46 692.66V830.5M344.67 692.66V830.5M380.38 692.66V830.5M415.58 692.66V830.5M451.29 692.66V830.5M61.5 809.4H486.5M61.5 788.29H486.5M61.5 766.69H486.5M61.5 745.59H486.5M61.5 724.48H486.5M61.5 703.38H486.5"/>
<rect class="f" x="61.5" y="692.66" width="425" height="137.84"/>
<polyline class="r" style="stroke:#cc1414" points="61.59,830.5 195.73,830.5"/>
<polyline class="r" points="195.73,830.5 196.65,826.61 197.58,824.39 199.43,823.46 202.2,821.42 204.98,819.2 207.76,817.35 210.53,815.13 213.31,813.28 216.08,810.87 217.93,809.39 220.71,807.72 223.48,805.68 226.26,803.83 229.03,801.24 231.81,799.2 234.58,797.35 236.43,795.68 238.28,794.2 241.06,792.9 242.91,790.5 244.76,788.64 247.53,787.72 250.31,786.24 253.08,784.94 255.86,783.46 258.63,782.72 261.41,781.24 263.26,778.46 264.74,779.01 266.04,780.31 268.44,779.94 270.29,779.01 272.51,779.94 275.29,780.31 278.06,781.24 280.84,782.16 282.69,781.61 284.54,783.09 287.31,783.64 290.09,784.94 292.86,786.79 295.64,788.64 298.41,789.94 301.19,791.79 303.96,793.64 306.74,795.13 309.51,797.53 312.29,799.39 315.06,801.61 317.84,803.83 320.61,806.24 323.39,808.65 326.17,810.87 328.94,813.09 331.72,815.5 334.49,817.91 337.27,819.2 340.04,821.05 342.82,822.91 345.59,824.76 347.44,825.13 348.37,827.54 349.29,830.5"/>
<polyline class="r" style="stroke:#cc1414" points="349.29,830.5 485.83,830.5"/>
<text class="h" x="274" y="680.96" text-anchor="middle">UV Index</text>
<text class="t" x="61.5" y="845" text-anchor="middle">0</text>
<text class="t" x="96.92" y="845" text-anchor="middle">2</text>
<text class="t" x="132.33" y="845" text-anchor="middle">4</text>
<text class="t" x="167.75" y="845" text-anchor="middle">6</text>
<text class="t" x="203.17" y="845" text-anchor="middle">8</text>
<text class="t" x="238.68" y="845" text-anchor="middle" letter-spacing="0.2">10</text>
<text class="t" x="274.1" y="845" text-anchor="middle" letter-spacing="0.2">12</text>
<text class="t" x="309.52" y="845" text-anchor="middle" letter-spacing="0.2">14</text>
<text class="t" x="344.93" y="845" text-anchor="middle" letter-spacing="0.2">16</text>
<text class="t" x="380.35" y="845" text-anchor="middle" letter-spacing="0.2">18</text>
<text class="t" x="415.77" y="845" text-anchor="middle" letter-spacing="0.2">20</text>
<text class="t" x="451.18" y="845" text-anchor="middle" letter-spacing="0.2">22</text>
<text class="t" x="486.6" y="845" text-anchor="middle" letter-spacing="0.2">24</text>
<text class="t" x="55.2" y="835" text-anchor="end">0</text>
<text class="t" x="55.2" y="814" text-anchor="end">2</text>
<text class="t" x="55.2" y="793" text-anchor="end">4</text>
<text class="t" x="55.2" y="771" text-anchor="end">6</text>
<text class="t" x="55.2" y="750" text-anchor="end">8</text>
<text class="t" x="55.8" y="729" text-anchor="end" letter-spacing="0.6">10</text>
<text class="t" x="55.8" y="708" text-anchor="end" letter-spacing="0.6">12</text>
<text class="l" transform="translate(36.1 761.88) rotate(-90)" text-anchor="middle">UV Index</text>
<text class="h" x="274" y="863.9" text-anchor="middle">Local Time (hour)</text>
</g>
<g>
<path class="g" d="M603.71 692.66V830.5M639.42 692.66V830.5M674.62 692.66V830.5M710.33 692.66V830.5M745.54 692.66V830.5M781.25 692.66V830.5M816.46 692.66V830.5M851.67 692.66V830.5M887.38 692.66V830.5M922.58 692.66V830.5M958.29 692.66V830.5M568.5 816.61H993.5M568.5 802.72H993.5M568.5 789.32H993.5M568.5 775.43H993.5M568.5 761.54H993.5M568.5 747.65H993.5M568.5 734.26H993.5M568.5 720.36H993.5M568.5 706.47H993.5"/>
<rect class="f" x="568.5" y="692.66" width="425" height="137.84"/>
<polyline class="r" style="stroke:#cc1414" points="568.5,830.5 992.61,830.5"/>
<text class="h" x="781" y="680.96" text-anchor="middle">24 hour Accumulated Rainfall or Snow Melt</text>
<text class="t" x="568.5" y="845" text-anchor="middle">0</text>
<text class="t" x="603.92" y="845" text-anchor="middle">2</text>
<text class="t" x="639.33" y="845" text-anchor="middle">4</text>
<text class="t" x="674.75" y="845" text-anchor="middle">6</text>
<text class="t" x="710.17" y="845" text-anchor="middle">8</text>
<text class="t" x="745.68" y="845" text-anchor="middle" letter-spacing="0.2">10</text>
<text class="t" x="781.1" y="845" text-anchor="middle" letter-spacing="0.2">12</text>
<text class="t" x="816.52" y="845" text-anchor="middle" letter-spacing="0.2">14</text>
<text class="t" x="851.93" y="845" text-anchor="middle" letter-spacing="0.2">16</text>
<text class="t" x="887.35" y="845" text-anchor="middle" letter-spacing="0.2">18</text>
<text class="t" x="922.77" y="845" text-anchor="middle" letter-spacing="0.2">20</text>
<text class="t" x="958.18" y="845" text-anchor="middle" letter-spacing="0.2">22</text>
<text class="t" x="993.6" y="845" text-anchor="middle" letter-spacing="0.2">24</text>
<text class="t" x="561.35" y="835" text-anchor="end" letter-spacing="-0.25">0.0</text>
<text class="t" x="1000" y="835" letter-spacing="-0.25">0.0</text>
<text class="t" x="561.4" y="821" text-anchor="end" letter-spacing="-0.2">0.01</text>
<text class="t" x="1000" y="821" letter-spacing="-0.2">0.01</text>
<text class="t" x="561.4" y="807" text-anchor="end" letter-spacing="-0.2">0.02</text>
<text class="t" x="1000" y="807" letter-spacing="-0.2">0.02</text>
<text class="t" x="561.4" y="794" text-anchor="end" letter-spacing="-0.2">0.03</text>
<text class="t" x="1000" y="794" letter-spacing="-0.2">0.03</text>
<text class="t" x="561.4" y="780" text-anchor="end" letter-spacing="-0.2">0.04</text>
<text class="t" x="1000" y="780" letter-spacing="-0.2">0.04</text>
<text class="t" x="561.4" y="766" text-anchor="end" letter-spacing="-0.2">0.05</text>
<text class="t" x="1000" y="766" letter-spacing="-0.2">0.05</text>
<text class="t" x="561.4" y="752" text-anchor="end" letter-spacing="-0.2">0.06</text>
<text class="t" x="1000" y="752" letter-spacing="-0.2">0.06</text>
<text class="t" x="561.4" y="739" text-anchor="end" letter-spacing="-0.2">0.07</text>
<text class="t" x="1000" y="739" letter-spacing="-0.2">0.07</text>
<text class="t" x="561.4" y="725" text-anchor="end" letter-spacing="-0.2">0.08</text>
<text class="t" x="1000" y="725" letter-spacing="-0.2">0.08</text>
<text class="t" x="561.4" y="711" text-anchor="end" letter-spacing="-0.2">0.09</text>
<text class="t" x="1000" y="711" letter-spacing="-0.2">0.09</text>
<text class="t" x="561.35" y="697" text-anchor="end" letter-spacing="-0.25">0.1</text>
<text class="t" x="1000" y="697" letter-spacing="-0.25">0.1</text>
<text class="l" transform="translate(533.3 761.88) rotate(-90)" text-anchor="middle">Inches</text>
<text class="h" x="781" y="863.9" text-anchor="middle">Local Time (hour)</text>
</g>
</svg>
</body></html>
